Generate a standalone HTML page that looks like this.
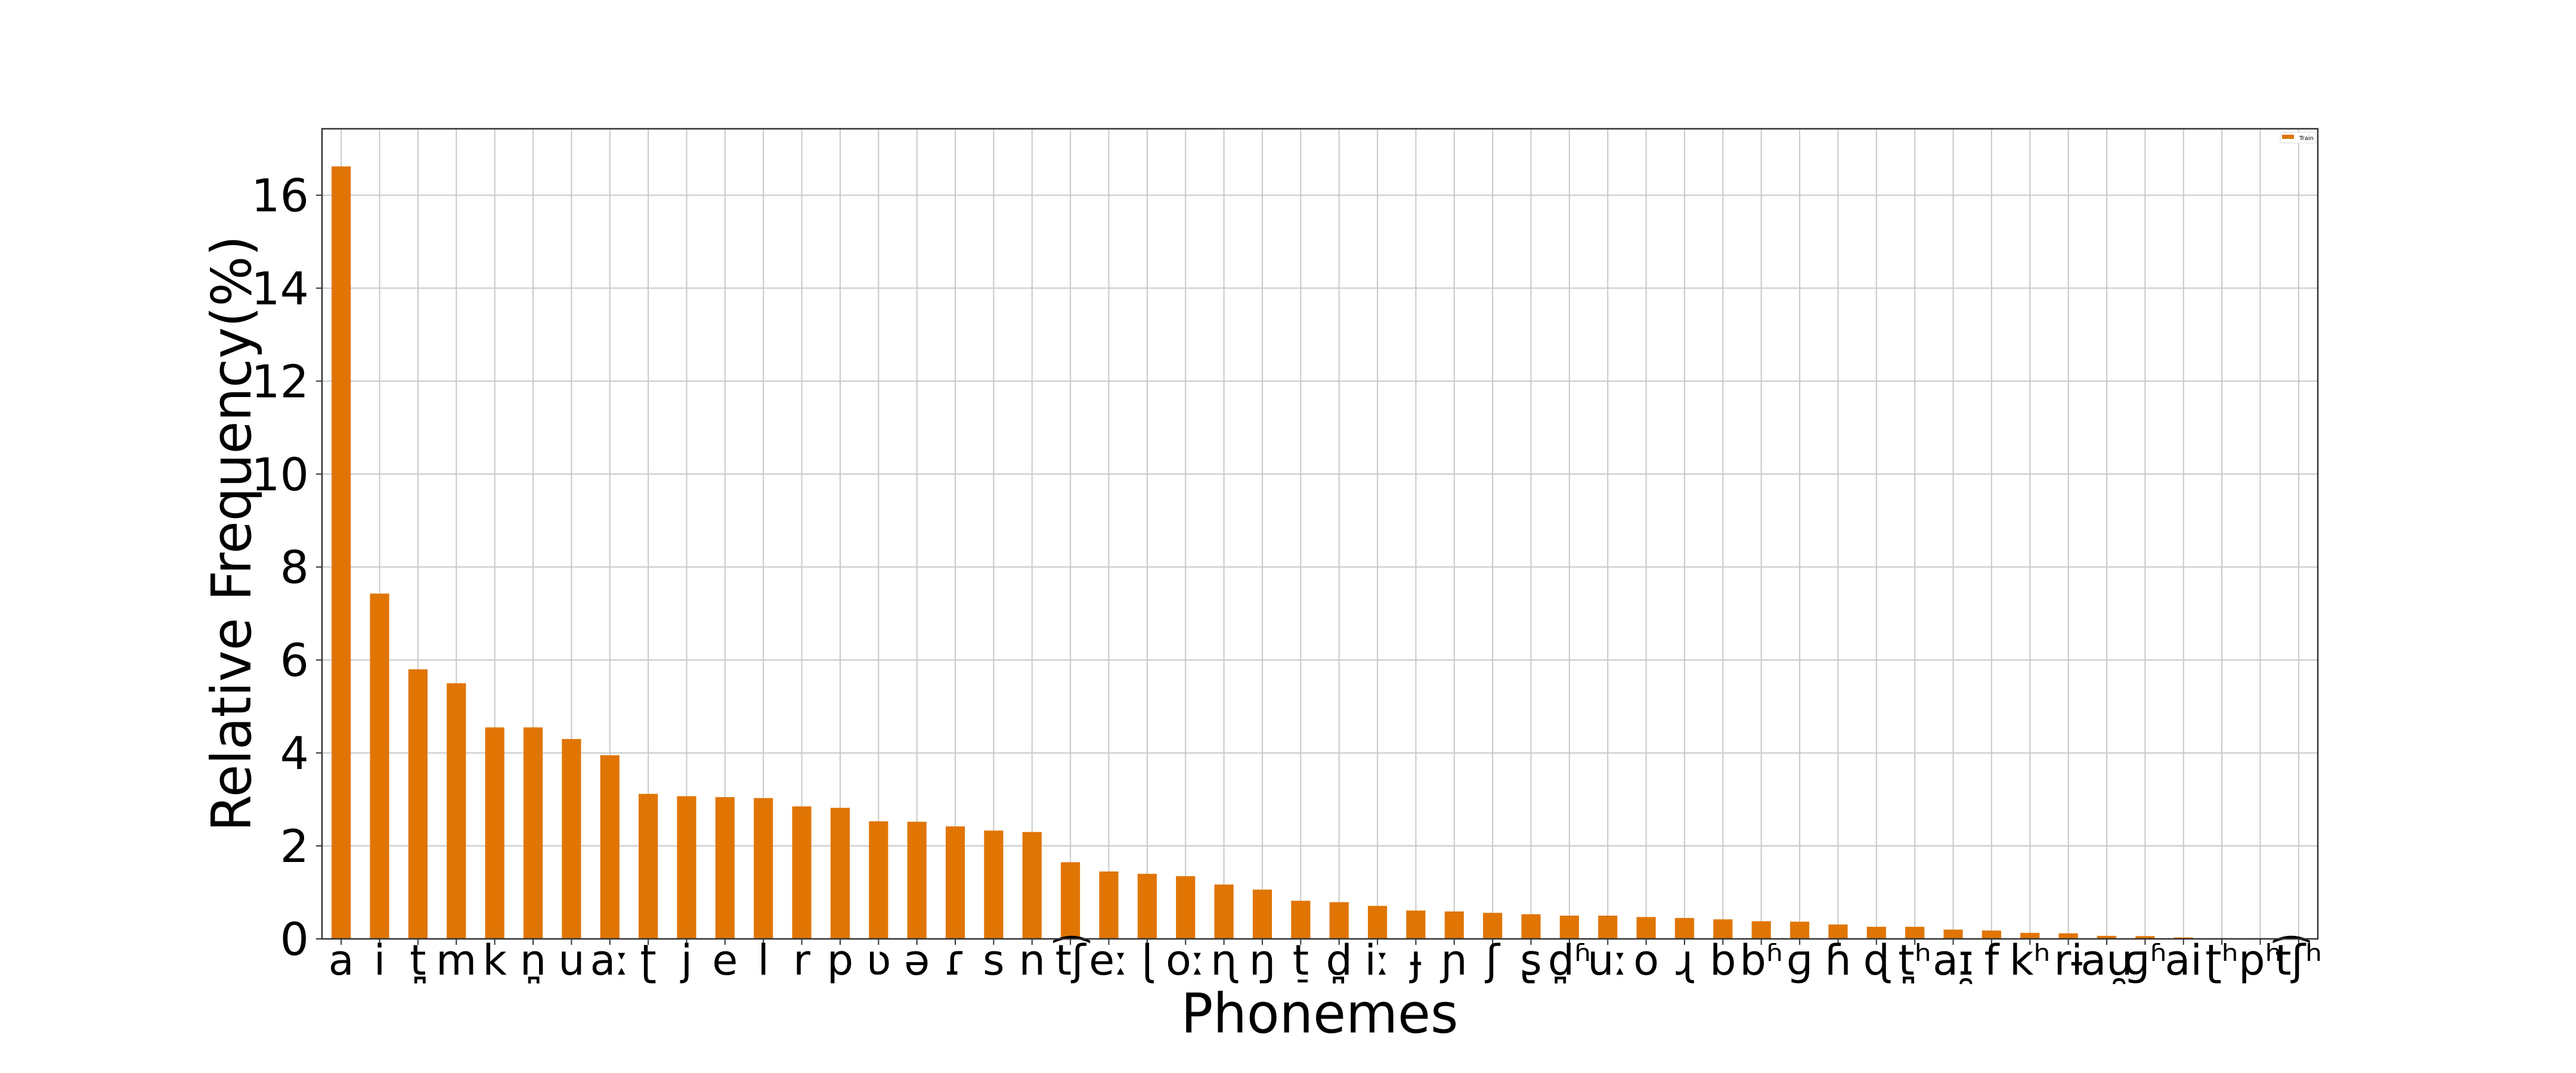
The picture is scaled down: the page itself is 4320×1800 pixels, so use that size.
<!DOCTYPE html>
<html><head><meta charset="utf-8"><style>
html,body{margin:0;padding:0;background:#fff}
svg{display:block}
text{font-family:"DejaVu Sans","Liberation Sans",sans-serif;fill:#000}
</style></head><body>
<svg id="chart" width="4320" height="1800" xmlns="http://www.w3.org/2000/svg">
<rect width="4320" height="1800" fill="#fff"/>
<g id="grid"></g>
<g id="bars"></g>
<g id="axes"></g>
</svg>
<script>
const categories = ["a","i","t̪","m","k","n̪","u","aː","ʈ","j","e","l","r","p","ʋ","ə","ɾ","s","n","t͡ʃ","eː","ɭ","oː","ɳ","ŋ","t̠","d̪","iː","ɟ","ɲ","ʃ","ʂ","d̪ʱ","uː","o","ɻ","b","bʱ","ɡ","ɦ","ɖ","t̪ʰ","aɪ̯","f","kʰ","rɨ","au̯","ɡʱ","ai","ʈʰ","pʰ","t͡ʃʰ"];
const values = [16.62,7.43,5.8,5.5,4.55,4.55,4.3,3.95,3.12,3.07,3.05,3.03,2.85,2.82,2.53,2.52,2.42,2.33,2.3,1.65,1.45,1.4,1.35,1.17,1.06,0.82,0.79,0.71,0.61,0.59,0.56,0.53,0.5,0.5,0.47,0.45,0.42,0.38,0.37,0.31,0.26,0.26,0.2,0.18,0.13,0.12,0.065,0.06,0.03,0.015,0.015,0.015];
const yTicks = [0,2,4,6,8,10,12,14,16];
const seriesName = "Train";

const NS="http://www.w3.org/2000/svg";
const L=540,R=3887,T=216,B=1575;
const yMax=17.43;
const n=categories.length;
const step=(R-L)/n;
function xScale(i){return L+(i+0.5)*step;}
function yScale(v){return B-(v/yMax)*(B-T);}
function mk(tag,attrs,parent){const e=document.createElementNS(NS,tag);for(const k in attrs)e.setAttribute(k,attrs[k]);parent.appendChild(e);return e;}
const grid=document.getElementById('grid'),bars=document.getElementById('bars'),axes=document.getElementById('axes');

yTicks.forEach(t=>{
  const y=yScale(t);
  const g=mk('line',{x1:L,x2:R,y1:y,y2:y,stroke:'#c8c8c8','stroke-width':2},grid);
  
  
  const tk=mk('line',{x1:L-10,x2:L,y1:y,y2:y,stroke:'#333','stroke-width':2},axes);
  
  
  const lb=mk('text',{x:L-22,y:y+27,'text-anchor':'end','font-size':76},axes);
  lb.textContent=t;
  
  
});
categories.forEach((c,i)=>{
  const x=xScale(i);
  const g=mk('line',{x1:x,x2:x,y1:T,y2:B,stroke:'#c8c8c8','stroke-width':2},grid);
  
  
  const h=B-yScale(values[i]);
  const b=mk('rect',{x:x-step*0.25,y:yScale(values[i]),width:step*0.5,height:h,fill:'#e07504'},bars);
  
  
  const tk=mk('line',{x1:x,x2:x,y1:B,y2:B+10,stroke:'#333','stroke-width':2},axes);
  
  
  const lb=mk('text',{x:x,y:1635,'text-anchor':'middle','font-size':70},axes);
  lb.textContent=c;
  
  
});
const frame=mk('rect',{x:L,y:T,width:R-L,height:B-T,fill:'none',stroke:'#333','stroke-width':2.5},axes);


const yt=mk('text',{x:0,y:0,'text-anchor':'middle','font-size':92,transform:'translate(420,895) rotate(-90)',textLength:1000,lengthAdjust:'spacingAndGlyphs'},axes);
yt.textContent='Relative Frequency(%)';


const xt=mk('text',{x:2213,y:1732,'text-anchor':'middle','font-size':92,textLength:465,lengthAdjust:'spacingAndGlyphs'},axes);
xt.textContent='Phonemes';


const lg=mk('g',{},axes);


const lbx=mk('rect',{x:3824,y:222,width:59,height:18,rx:2,fill:'#fff',stroke:'#ddd','stroke-width':1},lg);


const sw=mk('rect',{x:3827,y:226,width:20,height:7,fill:'#e07504'},lg);


const lt=mk('text',{x:3856,y:235,'font-size':10,fill:'#333'},lg);
lt.textContent=seriesName;


</script>
</body></html>
